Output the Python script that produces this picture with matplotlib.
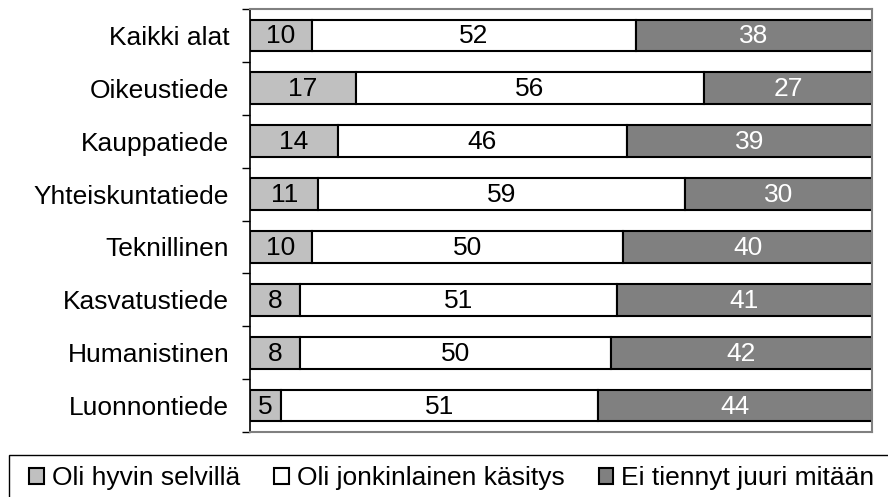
import numpy as np
import matplotlib.pyplot as plt
from matplotlib.patches import Rectangle

plt.rcParams['font.family'] = ['Liberation Sans', 'DejaVu Sans']

# data (percentages, top to bottom)
alat = ["Kaikki alat", "Oikeustiede", "Kauppatiede", "Yhteiskuntatiede",
        "Teknillinen", "Kasvatustiede", "Humanistinen", "Luonnontiede"]
selvilla = [10, 17, 14, 11, 10, 8, 8, 5]
jonkinlainen = [52, 56, 46, 59, 50, 51, 50, 51]
ei_tiennyt = [38, 27, 39, 30, 40, 41, 42, 44]

sarjat = ["Oli hyvin selvillä", "Oli jonkinlainen käsitys", "Ei tiennyt juuri mitään"]
varit = ["#c0c0c0", "#ffffff", "#808080"]
tekstivarit = ["black", "black", "white"]

data = np.array([selvilla, jonkinlainen, ei_tiennyt], dtype=float)
osuus = data / data.sum(axis=0) * 100   # 100 % stacked

fig = plt.figure(figsize=(8.88, 4.97), dpi=100)
ax = fig.add_axes([250/888, 1 - 432/497, 622/888, 423/497])

fs = 19
y = np.arange(len(alat))
left = np.zeros(len(alat))
handles = []
for i in range(3):
    b = ax.barh(y, osuus[i], left=left, height=0.6, color=varit[i],
                edgecolor="black", linewidth=1.5, label=sarjat[i])
    handles.append(b)
    for yy, l, w, v in zip(y, left, osuus[i], data[i]):
        ax.text(l + w / 2, yy + 0.02, f"{int(v)}", ha="center", va="center",
                fontsize=fs, color=tekstivarit[i])
    left += osuus[i]

ax.set_xlim(0, 100)
ax.set_ylim(len(alat) - 0.5, -0.5)
ax.set_xticks([])
ax.set_yticks(y)
ax.set_yticklabels(alat, fontsize=fs)
ax.tick_params(axis="y", which="major", length=0, pad=15)
ax.set_yticks(np.arange(-0.5, len(alat)), minor=True)
ax.tick_params(axis="y", which="minor", length=6, width=1, color="black")

for s in ["top", "right", "bottom"]:
    ax.spines[s].set_color("#808080")
    ax.spines[s].set_linewidth(1.5)
ax.spines["left"].set_color("black")
ax.spines["left"].set_linewidth(1.2)

# legend box
fig.patches.append(Rectangle((9/888, -0.1), 1.0, (497 - 455)/497 + 0.1,
                             transform=fig.transFigure, fill=False,
                             edgecolor="black", linewidth=1))
fig.legend(handles=handles, loc="center left", bbox_to_anchor=(16/888, 19/497),
           ncol=3, frameon=False, fontsize=fs, handlelength=0.55,
           handleheight=0.55, handletextpad=0.3, columnspacing=1.3,
           borderpad=0)

fig.savefig("out.png", dpi=100)
